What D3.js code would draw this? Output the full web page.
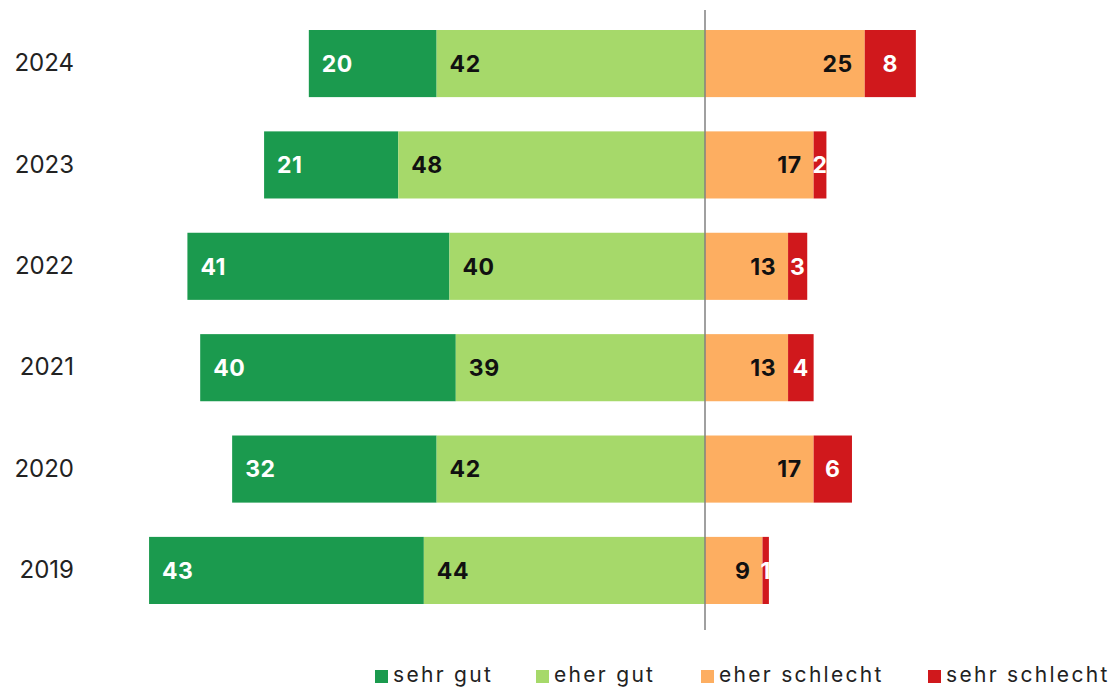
<!DOCTYPE html>
<html>
<head>
<meta charset="utf-8">
<script src="https://cdn.jsdelivr.net/npm/d3@7"></script>
<style>
  body { margin: 0; background: #fff; }
  svg { display: block; font-family: Inter, "Open Sans", sans-serif; }
</style>
</head>
<body>
<div id="chart"></div>
<script>
const years = ['2024', '2023', '2022', '2021', '2020', '2019'];
const sehrGut = [20, 21, 41, 40, 32, 43];
const eherGut = [42, 48, 40, 39, 42, 44];
const eherSchlecht = [25, 17, 13, 13, 17, 9];
const sehrSchlecht = [8, 2, 3, 4, 6, 1];
const categories = ['sehr gut', 'eher gut', 'eher schlecht', 'sehr schlecht'];
const colors = ['#1b9a4e', '#a6d96a', '#fdae61', '#d0181c'];

const width = 1120, height = 691;
const center = 705, unit = 6.39;

const svg = d3.select('#chart').append('svg')
    .attr('width', width)
    .attr('height', height);

// scales
const x = d3.scaleLinear()
    .domain([-90, 45])
    .range([center - 90 * unit, center + 45 * unit]);

const y = d3.scaleBand()
    .domain(years)
    .range([30, 604])
    .paddingInner(0.338)
    .paddingOuter(0);

const color = d3.scaleOrdinal().domain(categories).range(colors);

// build segments: each row gets 4 pieces
const segments = [];
years.forEach((yr, i) => {
    const sg = sehrGut[i], eg = eherGut[i], es = eherSchlecht[i], ss = sehrSchlecht[i];
    segments.push({ year: yr, cat: 'sehr gut', v: sg, x0: -(sg + eg), x1: -eg, align: 'start', fill: '#fff' });
    segments.push({ year: yr, cat: 'eher gut', v: eg, x0: -eg, x1: 0, align: 'start', fill: '#111' });
    segments.push({ year: yr, cat: 'eher schlecht', v: es, x0: 0, x1: es, align: 'end', fill: '#111' });
    segments.push({ year: yr, cat: 'sehr schlecht', v: ss, x0: es, x1: es + ss, align: 'middle', fill: '#fff' });
});

// bars
svg.append('g').selectAll('rect')
    .data(segments)
    .enter()
    .append('rect')
    .attr('x', d => x(d.x0))
    .attr('y', d => y(d.year))
    .attr('width', d => x(d.x1) - x(d.x0))
    .attr('height', y.bandwidth())
    .attr('fill', d => color(d.cat));

// value labels
svg.append('g').selectAll('text')
    .data(segments)
    .enter()
    .append('text')
    .attr('x', d => {
        if (d.align === 'start') return x(d.x0) + 13;
        if (d.align === 'end') return x(d.x1) - 12;
        return (x(d.x0) + x(d.x1)) / 2;
    })
    .attr('y', d => y(d.year) + y.bandwidth() / 2)
    .attr('dy', '0.36em')
    .attr('text-anchor', d => d.align)
    .attr('fill', d => d.fill)
    .style('font-size', '23px')
    .style('font-weight', 'bold')
    .style('letter-spacing', '0.5px')
    .text(d => d.v);

// center line
svg.append('line')
    .attr('x1', x(0)).attr('x2', x(0))
    .attr('y1', 10).attr('y2', 630)
    .attr('stroke', '#808080')
    .attr('stroke-width', 1.5);

// year axis
const yAxis = d3.axisLeft(y).tickSize(0).tickPadding(0);
svg.append('g')
    .attr('transform', 'translate(74,0)')
    .call(yAxis)
    .call(g => g.select('.domain').remove())
    .selectAll('text')
    .style('font-size', '24px')
    .style('font-family', 'Inter, "Open Sans", sans-serif')
    .attr('fill', '#222');

// legend
const legendX = [375, 536, 701, 928];
const legend = svg.append('g').selectAll('g')
    .data(categories)
    .enter()
    .append('g')
    .attr('transform', (d, i) => `translate(${legendX[i]},670)`);

legend.append('rect')
    .attr('width', 13)
    .attr('height', 13)
    .attr('fill', d => color(d));

legend.append('text')
    .attr('x', 18)
    .attr('y', 12)
    .style('font-size', '21px')
    .style('letter-spacing', '2.3px')
    .attr('fill', '#222')
    .text(d => d);
</script>
</body>
</html>
